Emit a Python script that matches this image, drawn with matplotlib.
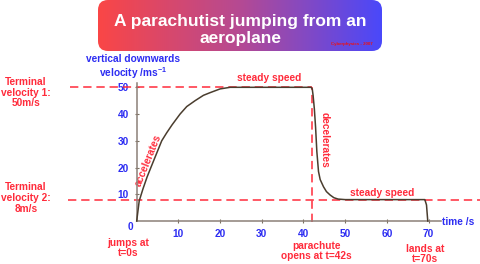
import numpy as np
import matplotlib
matplotlib.use('Agg')
import matplotlib.pyplot as plt
from matplotlib.colors import LinearSegmentedColormap
from matplotlib.patches import FancyBboxPatch

# curve: time (s) and velocity (m/s)
t = [0, 0.6, 1.5, 2.5, 3.4, 4.7, 6, 7.2, 8.5, 10.4, 12, 14, 16, 17.6, 20, 22.4,
     30, 41.8, 42.1, 42.3, 42.6, 42.9, 43.2, 43.6, 44, 44.8, 45.5, 46.4, 47.3,
     48.3, 50, 60, 69.1, 69.5, 69.8]
v = [0, 7.5, 12, 16.5, 20, 25, 30, 33, 36, 40, 42.8, 45, 47, 48, 49.4, 50,
     50, 50, 49.4, 47, 42, 35, 26, 18.5, 15.5, 12.8, 11, 9.7, 8.7,
     8.2, 8, 8, 8, 6, 0]

terminal_1 = 50
terminal_2 = 8
t_open = 42
xticks = [10, 20, 30, 40, 50, 60, 70]
yticks = [10, 20, 30, 40, 50]

RED = '#ff2b3b'
BLUE = '#2d2df2'
plt.rcParams['font.family'] = 'Liberation Sans'
plt.rcParams['font.weight'] = 'bold'
plt.rcParams['mathtext.fontset'] = 'custom'
plt.rcParams['mathtext.rm'] = 'Liberation Sans:bold'
plt.rcParams['mathtext.it'] = 'Liberation Sans:bold'
plt.rcParams['mathtext.bf'] = 'Liberation Sans:bold'
plt.rcParams['lines.scale_dashes'] = False

fig = plt.figure(figsize=(4.8, 2.64), dpi=100)

# overlay in pixel coordinates for the title box and the labels
ov = fig.add_axes([0, 0, 1, 1])
ov.set_xlim(0, 480)
ov.set_ylim(264, 0)
ov.axis('off')

box = FancyBboxPatch((98, 0), 284, 51, boxstyle='round,pad=0,rounding_size=10',
                     facecolor='none', edgecolor='none')
ov.add_patch(box)
cmap = LinearSegmentedColormap.from_list('g', ['#fa4646', '#b54a93', '#4a48fa'])
img = ov.imshow(np.linspace(0, 1, 256).reshape(1, -1), cmap=cmap, aspect='auto',
                extent=[98, 382, 51, 0], zorder=1)
img.set_clip_path(box)
ov.set_xlim(0, 480)
ov.set_ylim(264, 0)


def txt(x, y, s, color=RED, size=7.3, **kw):
    ov.text(x, y, s, color=color, fontsize=size, fontweight='bold',
            ha='center', va='center', **kw)


txt(240, 21.5, 'A parachutist jumping from an', color='white', size=12.5, zorder=2)
txt(240, 38, 'aeroplane', color='white', size=12.5, zorder=2)
txt(352, 44, 'Cyberphysics - 2007', color='#ee1111', size=3.2, zorder=2)

txt(133, 67.5, 'vertical downwards\nvelocity /ms$^{-1}$', color=BLUE, linespacing=1.05)
txt(26, 92.5, 'Terminal\nvelocity 1:\n50m/s', linespacing=1.1)
txt(26, 198, 'Terminal\nvelocity 2:\n8m/s', linespacing=1.1)
txt(269, 78.3, 'steady speed')
txt(381.7, 192.7, 'steady speed')
txt(325, 140, 'decelerates', rotation=-90)
txt(148.5, 160, 'accelerates', rotation=68)
txt(458, 221.7, 'time /s', color=BLUE)
txt(128.3, 248, 'jumps at\nt=0s', linespacing=1.0)
txt(316.7, 251, 'parachute\nopens at t=42s', linespacing=1.0)
txt(425, 254.5, 'lands at\nt=70s', linespacing=1.0)
txt(130.7, 227.3, '0', color=BLUE)

# main chart
ax = fig.add_axes([136.7 / 480, 43 / 264, 304.4 / 480, 137.7 / 264])
ax.patch.set_alpha(0)
ax.set_xlim(0, 73)
ax.set_ylim(0, 51.5)
for s in ['top', 'right']:
    ax.spines[s].set_visible(False)
for s in ['left', 'bottom']:
    ax.spines[s].set_color('#8c8078')
    ax.spines[s].set_linewidth(1.1)
ax.set_xticks(xticks)
ax.set_yticks(yticks)
ax.tick_params(direction='inout', length=3, width=0.8, color='#7a7060',
               labelcolor=BLUE, labelsize=7.3)
ax.tick_params(axis='x', pad=4)
ax.tick_params(axis='y', pad=4)
for lab in ax.get_xticklabels() + ax.get_yticklabels():
    lab.set_fontweight('bold')

dash = dict(color=RED, lw=1.1, dashes=(6, 3.5), clip_on=False, zorder=2)
ax.plot([-16, t_open], [terminal_1, terminal_1], **dash)
ax.plot([-16.5, 82.5], [terminal_2, terminal_2], **dash)
ax.plot([t_open, t_open], [-0.5, terminal_1], **dash)

ax.plot(t, v, color='#4a3d2e', lw=1.1, clip_on=False, zorder=3,
        solid_joinstyle='round')

fig.savefig('out.png', dpi=100)
